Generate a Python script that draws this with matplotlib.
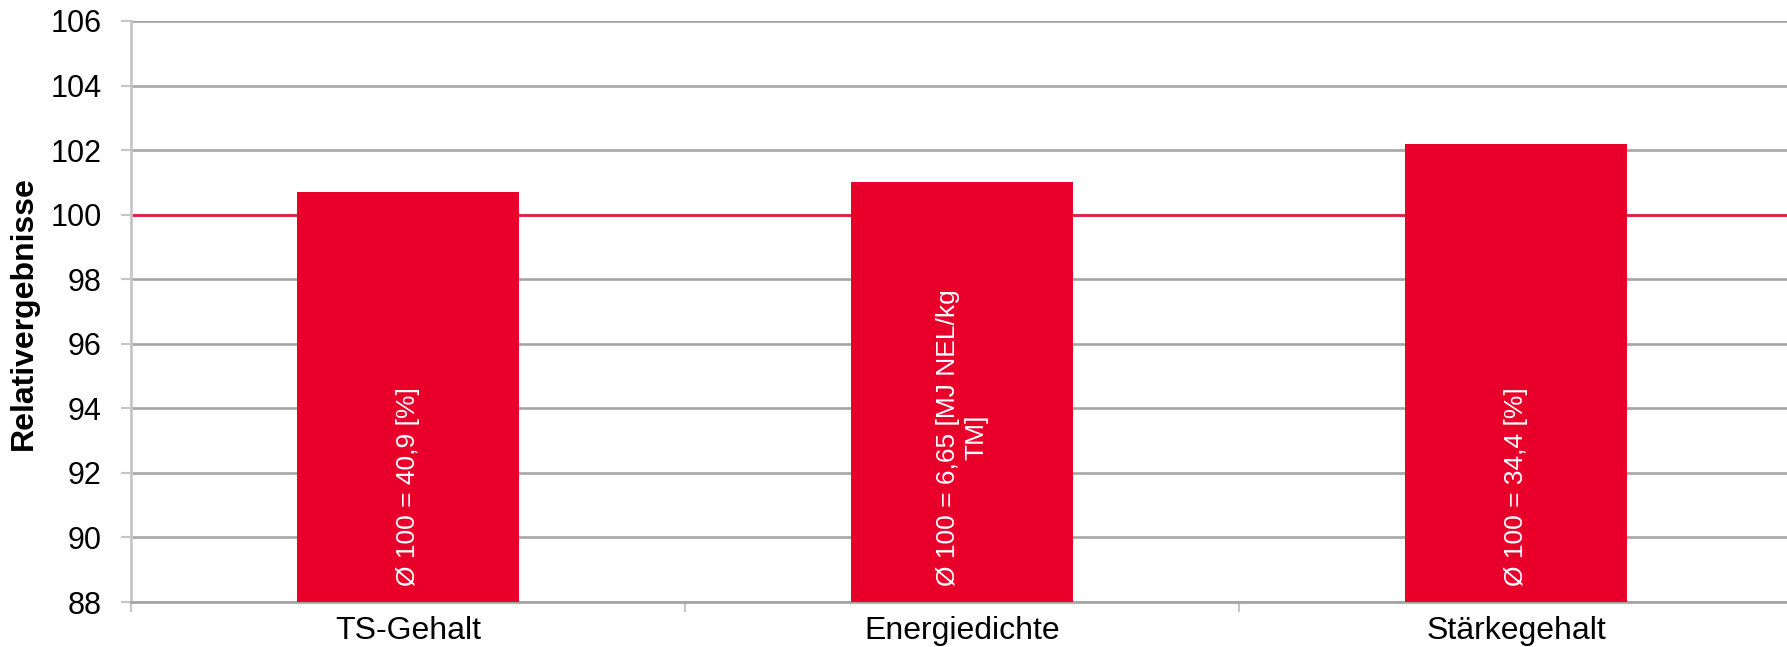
import numpy as np
import matplotlib.pyplot as plt

plt.rcParams['font.family'] = ['Liberation Sans', 'DejaVu Sans']

categories = ['TS-Gehalt', 'Energiedichte', 'Stärkegehalt']
values = [100.7, 101.0, 102.2]
inner_labels = ['Ø 100 = 40,9 [%]', 'Ø 100 = 6,65 [MJ NEL/kg\nTM]', 'Ø 100 = 34,4 [%]']
yticks = np.arange(88, 107, 2)

bar_color = '#e8002a'
grid_color = '#a6a6a6'
spine_color = '#c6c6c6'

fig = plt.figure(figsize=(17.87, 6.47), dpi=100)
ax = fig.add_axes([131/1787, 1 - 602/647, 1662/1787, 581/647])

x = np.arange(len(categories))
ax.bar(x, np.array(values) - 88, bottom=88, width=0.4, color=bar_color, zorder=3)

# Beschriftung in den Balken
for xi, lab in zip(x, inner_labels):
    ax.text(xi, 88.5, lab, rotation=90, ha='center', va='bottom', multialignment='center',
            color='white', fontsize=19, zorder=4)

ax.axhline(100, color='#e0203f', lw=2, zorder=2)

ax.set_ylim(88, 106)
ax.set_xlim(-0.5, 2.5)
ax.set_yticks(yticks)
ax.set_yticklabels([str(v) for v in yticks])
ax.yaxis.grid(True, color=grid_color, lw=1.9, zorder=0)
ax.set_axisbelow(True)

ax.set_xticks(x)
ax.set_xticklabels(categories)
ax.set_xticks(np.arange(-0.5, 3, 1), minor=True)
ax.tick_params(axis='x', which='major', length=0, pad=10, labelsize=23)
ax.tick_params(axis='x', which='minor', length=7, width=1.5, color=spine_color, direction='out')
ax.tick_params(axis='y', length=7, width=1.5, color=spine_color, pad=14, labelsize=22)

for s in ['top', 'right']:
    ax.spines[s].set_visible(False)
ax.spines['left'].set_color(spine_color)
ax.spines['left'].set_linewidth(2)
ax.spines['bottom'].set_color(grid_color)
ax.spines['bottom'].set_linewidth(2)

fig.text(24/1787, 1 - 313/647, 'Relativergebnisse', rotation=90, ha='center', va='center',
         fontsize=23, fontweight='bold')

fig.savefig('out.png', dpi=100)
